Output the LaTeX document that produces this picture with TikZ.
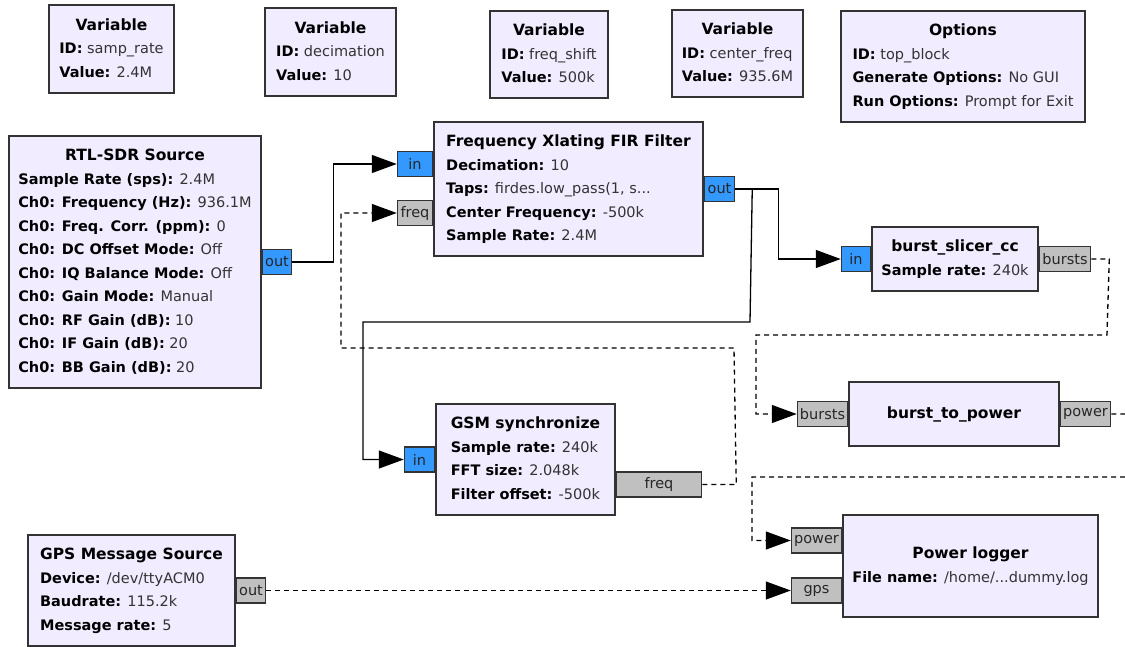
\documentclass[tikz,border=0pt]{standalone}
\usepackage{fontspec}
\setmainfont{DejaVu Sans}
\usetikzlibrary{arrows.meta}
\definecolor{blockfill}{HTML}{F1ECFF}
\definecolor{blockline}{HTML}{333333}
\definecolor{cplx}{HTML}{3399FF}
\definecolor{msg}{HTML}{C0C0C0}
\definecolor{valtext}{HTML}{333333}
\newcommand{\grcfont}{\fontsize{14.5}{23.5}\selectfont}
\newcommand{\grctitlefont}{\fontsize{15.5}{23.5}\selectfont\bfseries}
\newcommand{\grckv}[2]{\textbf{#1} {\color{valtext}#2}}
\newcommand{\grcbody}[2]{\begin{tabular}{@{}l@{}}\multicolumn{1}{@{}c@{}}{\grctitlefont #1}#2\end{tabular}}
\tikzset{
  block/.style={draw=blockline, line width=1.5pt, fill=blockfill, inner sep=0pt, font=\grcfont},
  port/.style={draw=blockline, line width=1.5pt, inner sep=0pt, minimum height=25pt, font=\grcfont, text=black!85},
  cport/.style={port, fill=cplx},
  mport/.style={port, fill=msg},
  conn/.style={line width=1.3pt, -{Triangle[length=25pt,width=18pt]}},
  msgconn/.style={conn, dash pattern=on 5pt off 4pt},
}
\begin{document}
\begin{tikzpicture}[x=1pt,y=-1pt]
\useasboundingbox (0,0) rectangle (1125,646);
\fill[white] (0,0) rectangle (1125,646);

% variable / options blocks
\node[block, minimum width=125pt, minimum height=88pt] (vsamp) at (111.5,49)
  {\grcbody{Variable}{\\ \grckv{ID:}{samp\_rate}\\ \grckv{Value:}{2.4M}}};
\node[block, minimum width=131pt, minimum height=88pt] (vdec) at (330.5,52)
  {\grcbody{Variable}{\\ \grckv{ID:}{decimation}\\ \grckv{Value:}{10}}};
\node[block, minimum width=118pt, minimum height=87pt] (vshift) at (549,54.5)
  {\grcbody{Variable}{\\ \grckv{ID:}{freq\_shift}\\ \grckv{Value:}{500k}}};
\node[block, minimum width=131pt, minimum height=87pt] (vcenter) at (737.5,53.5)
  {\grcbody{Variable}{\\ \grckv{ID:}{center\_freq}\\ \grckv{Value:}{935.6M}}};
\node[block, minimum width=244pt, minimum height=111pt] (opts) at (963,66.5)
  {\grcbody{Options}{\\ \grckv{ID:}{top\_block}\\ \grckv{Generate Options:}{No GUI}\\ \grckv{Run Options:}{Prompt for Exit}}};

% processing blocks
\node[block, minimum width=252pt, minimum height=252pt] (rtl) at (135,262)
  {\grcbody{RTL-SDR Source}{\\ \grckv{Sample Rate (sps):}{2.4M}\\ \grckv{Ch0: Frequency (Hz):}{936.1M}\\
   \grckv{Ch0: Freq. Corr. (ppm):}{0}\\ \grckv{Ch0: DC Offset Mode:}{Off}\\ \grckv{Ch0: IQ Balance Mode:}{Off}\\
   \grckv{Ch0: Gain Mode:}{Manual}\\ \grckv{Ch0: RF Gain (dB):}{10}\\ \grckv{Ch0: IF Gain (dB):}{20}\\ \grckv{Ch0: BB Gain (dB):}{20}}};
\node[block, minimum width=269pt, minimum height=134pt] (fir) at (568.5,189)
  {\grcbody{Frequency Xlating FIR Filter}{\\ \grckv{Decimation:}{10}\\ \grckv{Taps:}{firdes.low\_pass(1, s...}\\
   \grckv{Center Frequency:}{-500k}\\ \grckv{Sample Rate:}{2.4M}}};
\node[block, minimum width=166pt, minimum height=64pt] (bs) at (955,259)
  {\grcbody{burst\_slicer\_cc}{\\ \grckv{Sample rate:}{240k}}};
\node[block, minimum width=210pt, minimum height=64pt] (btp) at (954,414)
  {\grcbody{burst\_to\_power}{}};
\node[block, minimum width=179pt, minimum height=111pt] (gsm) at (525.5,459.5)
  {\grcbody{GSM synchronize}{\\ \grckv{Sample rate:}{240k}\\ \grckv{FFT size:}{2.048k}\\ \grckv{Filter offset:}{-500k}}};
\node[block, minimum width=255pt, minimum height=102pt] (pl) at (970.5,566)
  {\grcbody{Power logger}{\\ \grckv{File name:}{/home/...dummy.log}}};
\node[block, minimum width=207pt, minimum height=111pt] (gps) at (131.5,590.5)
  {\grcbody{GPS Message Source}{\\ \grckv{Device:}{/dev/ttyACM0}\\ \grckv{Baudrate:}{115.2k}\\ \grckv{Message rate:}{5}}};

% ports
\node[cport, minimum width=29pt, anchor=west] (rtlout) at (rtl.east) {out};
\node[cport, minimum width=35pt, anchor=east, yshift=25pt] (firin) at (fir.west) {in};
\node[mport, minimum width=35pt, anchor=east, yshift=-24pt] (firfreq) at (fir.west) {freq};
\node[cport, minimum width=30pt, anchor=west] (firout) at (fir.east) {out};
\node[cport, minimum width=29pt, anchor=east] (bsin) at (bs.west) {in};
\node[mport, minimum width=51pt, anchor=west] (bsbursts) at (bs.east) {bursts};
\node[mport, minimum width=50pt, anchor=east] (btpbursts) at (btp.west) {bursts};
\node[mport, minimum width=50pt, anchor=west] (btppower) at (btp.east) {power};
\node[cport, minimum width=30pt, anchor=east] (gsmin) at (gsm.west) {in};
\node[mport, minimum width=85pt, anchor=west, yshift=-25pt] (gsmfreq) at (gsm.east) {freq};
\node[mport, minimum width=50pt, anchor=east, yshift=25.5pt] (plpower) at (pl.west) {power};
\node[mport, minimum width=50pt, anchor=east, yshift=-24.5pt] (plgps) at (pl.west) {gps};
\node[mport, minimum width=29pt, anchor=west] (gpsout) at (gps.east) {out};

% connections
\draw[conn] (rtlout.east) -- ++(41,0) |- (firin.west);
\draw[conn] (firout.east) -- ++(43,0) |- (bsin.west);
\draw[conn] (firout.east) -- ++(17,0) -- (750,322) -- (363,322) |- (gsmin.west);
\draw[msgconn] (gsmfreq.east) -- ++(34,0) -- (734,348) -- (341,348) |- (firfreq.west);
\draw[msgconn] (bsbursts.east) -- ++(18,0) -- (1107,335) -- (756,335) |- (btpbursts.west);
\draw[msgconn] (btppower.east) -- ++(26,0) -- (1135,477) -- (752,477) |- (plpower.west);
\draw[msgconn] (gpsout.east) -- (plgps.west);
\end{tikzpicture}
\end{document}
